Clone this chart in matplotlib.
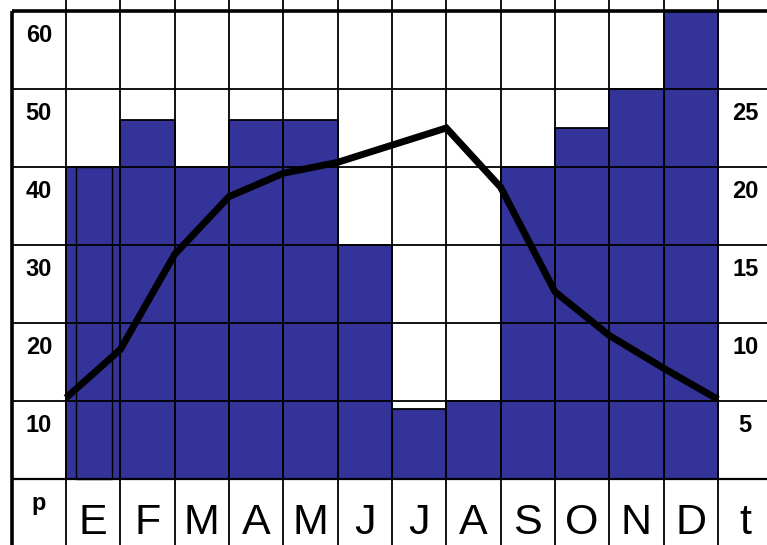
import numpy as np
import matplotlib
matplotlib.use('Agg')
import matplotlib.pyplot as plt

# =============================================================================
# datos del climograma
# =============================================================================
meses = ['E', 'F', 'M', 'A', 'M', 'J', 'J', 'A', 'S', 'O', 'N', 'D']
precipitacion = [40, 46, 40, 46, 46, 30, 9, 10, 40, 45, 50, 60]
temperatura = [5.2, 8.3, 14.4, 18.1, 19.6, 20.3, 21.4, 22.5, 18.7, 12.0, 9.2, 7.1, 5.1]
ticks_p = [10, 20, 30, 40, 50, 60]
ticks_t = [5, 10, 15, 20, 25]

plt.rcParams['font.family'] = ['Liberation Sans', 'DejaVu Sans']

# =============================================================================
# escala: una columna = un mes, 10 mm = 78 px
# =============================================================================
W, H = 767, 545
col = (718 - 66) / 12.0
fila = 7.8
x0 = -66 / col
x1 = 12 + (W - 718) / col
y0 = -(H - 479) / fila
y1 = 479 / fila

fig = plt.figure(figsize=(W / 100, H / 100), dpi=100)
ax = fig.add_axes([0, 0, 1, 1])
ax.set_xlim(x0, x1)
ax.set_ylim(y0, y1)
ax.axis('off')

azul = '#333399'
x = np.arange(len(meses)) + 0.5
ax.bar(x, precipitacion, width=1.0, color=azul, edgecolor='black', linewidth=1.3, zorder=2)
# contorno interior de la primera barra
ax.bar(0.515, precipitacion[0], width=0.67, fill=False, edgecolor='black', linewidth=1.0, zorder=3)

# rejilla de la tabla
ax.hlines(ticks_p[:-1], -1, x1, color='black', linewidth=1.3, zorder=3)
ax.hlines([0], -1, x1, color='black', linewidth=1.6, zorder=3)
ax.hlines([60], -1, x1, color='black', linewidth=2.6, zorder=3)
ax.vlines(np.arange(13), y0, y1, color='black', linewidth=1.3, zorder=3)
ax.vlines([-1], y0, 60, color='black', linewidth=2.6, zorder=3)

# etiquetas
for v in ticks_p:
    ax.text(-0.5, v - 3.2, str(v), ha='center', va='center',
            fontsize=17, fontweight='bold', zorder=4)
for v in ticks_t:
    ax.text(12.5, 2 * v - 3.2, str(v), ha='center', va='center',
            fontsize=17, fontweight='bold', zorder=4)
for i, m in enumerate(meses):
    ax.text(i + 0.5, -7.0, m, ha='center', va='baseline', fontsize=31, zorder=4)
ax.text(-0.5, -4.0, 'p', ha='center', va='baseline', fontsize=17, fontweight='bold')
ax.text(12.5, -7.0, 't', ha='center', va='baseline', fontsize=31)

# temperatura en el eje derecho (t = p / 2)
ax2 = ax.twinx()
ax2.set_position([0, 0, 1, 1])
ax2.set_ylim(y0 / 2, y1 / 2)
ax2.axis('off')
ax2.plot(np.arange(len(temperatura)), temperatura, color='black', linewidth=5,
         solid_joinstyle='miter', solid_capstyle='butt', zorder=5)

plt.savefig('out.png', dpi=100)
